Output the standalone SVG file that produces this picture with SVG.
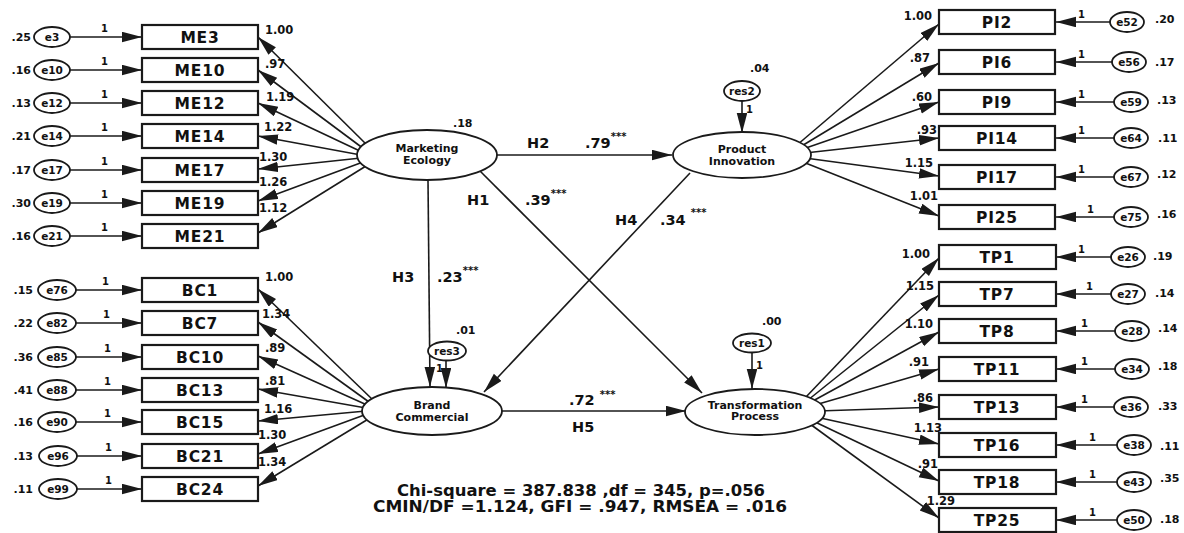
<svg xmlns="http://www.w3.org/2000/svg" width="1184" height="533" viewBox="0 0 1184 533">
<defs>
<style>
.ln{stroke:#1a1a1a;stroke-width:1.6;fill:none}
.box{fill:#fff;stroke:#1a1a1a;stroke-width:2.2}
.lat{fill:#fff;stroke:#1a1a1a;stroke-width:1.8}
.err{fill:#fff;stroke:#1a1a1a;stroke-width:1.8}
text{font-family:"DejaVu Sans","Liberation Sans",sans-serif;font-weight:bold;fill:#111}
.bl{font-size:15.5px;text-anchor:middle;letter-spacing:0.8px}
.lt{font-size:11px;text-anchor:middle}
.el{font-size:10.5px;text-anchor:middle}
.num{font-size:11.5px}
.ne{font-size:11.5px;text-anchor:end}
.var{font-size:11px}
.vr{font-size:11px;text-anchor:end}
.one{font-size:10px}
.h{font-size:14.5px}
.st{font-size:10px}
.fit{font-size:15.5px;text-anchor:middle}
</style>
<marker id="ah" markerUnits="userSpaceOnUse" markerWidth="22" markerHeight="12" refX="20" refY="5.25" orient="auto" viewBox="0 0 22 12"><path d="M0,0 L20,5.25 L0,10.5 Z" fill="#1a1a1a"/></marker>
</defs>
<rect width="1184" height="533" fill="#fff"/>

<g id="connectors">
<!-- ME error arrows -->
<line class="ln" x1="70" y1="37" x2="142" y2="37" marker-end="url(#ah)"/>
<line class="ln" x1="70" y1="70" x2="142" y2="70" marker-end="url(#ah)"/>
<line class="ln" x1="70" y1="103" x2="142" y2="103" marker-end="url(#ah)"/>
<line class="ln" x1="70" y1="136" x2="142" y2="136" marker-end="url(#ah)"/>
<line class="ln" x1="70" y1="170" x2="142" y2="170" marker-end="url(#ah)"/>
<line class="ln" x1="70" y1="203" x2="142" y2="203" marker-end="url(#ah)"/>
<line class="ln" x1="70" y1="236" x2="142" y2="236" marker-end="url(#ah)"/>
<!-- BC error arrows -->
<line class="ln" x1="76" y1="290" x2="142" y2="290" marker-end="url(#ah)"/>
<line class="ln" x1="76" y1="323" x2="142" y2="323" marker-end="url(#ah)"/>
<line class="ln" x1="76" y1="357" x2="142" y2="357" marker-end="url(#ah)"/>
<line class="ln" x1="76" y1="390" x2="142" y2="390" marker-end="url(#ah)"/>
<line class="ln" x1="76" y1="422" x2="142" y2="422" marker-end="url(#ah)"/>
<line class="ln" x1="76" y1="456" x2="142" y2="456" marker-end="url(#ah)"/>
<line class="ln" x1="76" y1="489" x2="142" y2="489" marker-end="url(#ah)"/>
<!-- PI error arrows -->
<line class="ln" x1="1110" y1="22" x2="1056" y2="22" marker-end="url(#ah)"/>
<line class="ln" x1="1112" y1="62" x2="1056" y2="62" marker-end="url(#ah)"/>
<line class="ln" x1="1114" y1="102" x2="1056" y2="102" marker-end="url(#ah)"/>
<line class="ln" x1="1114" y1="138" x2="1056" y2="138" marker-end="url(#ah)"/>
<line class="ln" x1="1114" y1="177" x2="1056" y2="177" marker-end="url(#ah)"/>
<line class="ln" x1="1114" y1="217" x2="1056" y2="217" marker-end="url(#ah)"/>
<!-- TP error arrows -->
<line class="ln" x1="1111" y1="257" x2="1056" y2="257" marker-end="url(#ah)"/>
<line class="ln" x1="1111" y1="294" x2="1056" y2="294" marker-end="url(#ah)"/>
<line class="ln" x1="1115" y1="331" x2="1056" y2="331" marker-end="url(#ah)"/>
<line class="ln" x1="1115" y1="369" x2="1056" y2="369" marker-end="url(#ah)"/>
<line class="ln" x1="1114" y1="407" x2="1056" y2="407" marker-end="url(#ah)"/>
<line class="ln" x1="1117" y1="445" x2="1056" y2="445" marker-end="url(#ah)"/>
<line class="ln" x1="1117" y1="482" x2="1056" y2="482" marker-end="url(#ah)"/>
<line class="ln" x1="1117" y1="520" x2="1056" y2="520" marker-end="url(#ah)"/>
<!-- ME loadings -->
<line class="ln" x1="368" y1="146" x2="258" y2="37" marker-end="url(#ah)"/>
<line class="ln" x1="364" y1="149" x2="258" y2="70" marker-end="url(#ah)"/>
<line class="ln" x1="362" y1="152" x2="258" y2="103" marker-end="url(#ah)"/>
<line class="ln" x1="361" y1="155" x2="258" y2="136" marker-end="url(#ah)"/>
<line class="ln" x1="361" y1="158" x2="258" y2="169" marker-end="url(#ah)"/>
<line class="ln" x1="363" y1="162" x2="258" y2="201" marker-end="url(#ah)"/>
<line class="ln" x1="366" y1="166" x2="258" y2="233" marker-end="url(#ah)"/>
<!-- BC loadings -->
<line class="ln" x1="373" y1="400" x2="258" y2="289" marker-end="url(#ah)"/>
<line class="ln" x1="369" y1="402" x2="258" y2="322" marker-end="url(#ah)"/>
<line class="ln" x1="367" y1="405" x2="258" y2="356" marker-end="url(#ah)"/>
<line class="ln" x1="366" y1="408" x2="258" y2="389" marker-end="url(#ah)"/>
<line class="ln" x1="366" y1="411" x2="258" y2="421" marker-end="url(#ah)"/>
<line class="ln" x1="367" y1="414" x2="258" y2="454" marker-end="url(#ah)"/>
<line class="ln" x1="370" y1="418" x2="258" y2="486" marker-end="url(#ah)"/>
<!-- PI loadings -->
<line class="ln" x1="797" y1="145" x2="939" y2="24" marker-end="url(#ah)"/>
<line class="ln" x1="800" y1="147" x2="939" y2="63" marker-end="url(#ah)"/>
<line class="ln" x1="803" y1="149" x2="939" y2="102" marker-end="url(#ah)"/>
<line class="ln" x1="805" y1="153" x2="939" y2="138" marker-end="url(#ah)"/>
<line class="ln" x1="805" y1="158" x2="939" y2="176" marker-end="url(#ah)"/>
<line class="ln" x1="803" y1="162" x2="939" y2="216" marker-end="url(#ah)"/>
<!-- TP loadings -->
<line class="ln" x1="805" y1="398" x2="939" y2="258" marker-end="url(#ah)"/>
<line class="ln" x1="808" y1="400" x2="939" y2="295" marker-end="url(#ah)"/>
<line class="ln" x1="811" y1="402" x2="939" y2="332" marker-end="url(#ah)"/>
<line class="ln" x1="815" y1="405" x2="939" y2="369" marker-end="url(#ah)"/>
<line class="ln" x1="818" y1="411" x2="939" y2="407" marker-end="url(#ah)"/>
<line class="ln" x1="816" y1="417" x2="939" y2="444" marker-end="url(#ah)"/>
<line class="ln" x1="813" y1="421" x2="939" y2="481" marker-end="url(#ah)"/>
<line class="ln" x1="810" y1="424" x2="939" y2="518" marker-end="url(#ah)"/>
<!-- residual arrows -->
<line class="ln" x1="742" y1="101" x2="742" y2="133" marker-end="url(#ah)"/>
<line class="ln" x1="752" y1="352" x2="752" y2="389" marker-end="url(#ah)"/>
<line class="ln" x1="446" y1="360" x2="446" y2="388" marker-end="url(#ah)"/>
<!-- structural paths -->
<line class="ln" x1="497" y1="155" x2="672" y2="155" marker-end="url(#ah)"/>
<line class="ln" x1="480" y1="171" x2="702" y2="393" marker-end="url(#ah)"/>
<line class="ln" x1="428" y1="180" x2="430" y2="387" marker-end="url(#ah)"/>
<line class="ln" x1="690" y1="173" x2="484" y2="392" marker-end="url(#ah)"/>
<line class="ln" x1="502" y1="411" x2="686" y2="411" marker-end="url(#ah)"/>
</g>

<g id="connector-labels">
<text class="one" x="101" y="32">1</text>
<text class="one" x="101" y="65">1</text>
<text class="one" x="101" y="98">1</text>
<text class="one" x="101" y="131">1</text>
<text class="one" x="101" y="165">1</text>
<text class="one" x="101" y="198">1</text>
<text class="one" x="101" y="231">1</text>
<text class="one" x="102" y="285">1</text>
<text class="one" x="103" y="318">1</text>
<text class="one" x="104" y="352">1</text>
<text class="one" x="104" y="385">1</text>
<text class="one" x="104" y="417">1</text>
<text class="one" x="105" y="451">1</text>
<text class="one" x="105" y="484">1</text>
<text class="one" x="1078" y="18">1</text>
<text class="one" x="1078" y="58">1</text>
<text class="one" x="1078" y="98">1</text>
<text class="one" x="1078" y="134">1</text>
<text class="one" x="1078" y="173">1</text>
<text class="one" x="1087" y="213">1</text>
<text class="one" x="1078" y="253">1</text>
<text class="one" x="1086" y="290">1</text>
<text class="one" x="1081" y="327">1</text>
<text class="one" x="1081" y="365">1</text>
<text class="one" x="1081" y="403">1</text>
<text class="one" x="1089" y="441">1</text>
<text class="one" x="1089" y="478">1</text>
<text class="one" x="1089" y="516">1</text>
<text class="one" x="746" y="113">1</text>
<text class="one" x="756" y="369">1</text>
<text class="one" x="436" y="372">1</text>
<!-- ME loadings -->
<text class="num" x="265" y="34">1.00</text>
<text class="num" x="265" y="68">.97</text>
<text class="num" x="266" y="101">1.19</text>
<text class="num" x="264" y="131">1.22</text>
<text class="num" x="259" y="161">1.30</text>
<text class="num" x="259" y="186">1.26</text>
<text class="num" x="259" y="212">1.12</text>
<!-- BC loadings -->
<text class="num" x="265" y="281">1.00</text>
<text class="num" x="262" y="318">1.34</text>
<text class="num" x="265" y="352">.89</text>
<text class="num" x="265" y="385">.81</text>
<text class="num" x="264" y="413">1.16</text>
<text class="num" x="258" y="439">1.30</text>
<text class="num" x="258" y="466">1.34</text>
<!-- PI loadings -->
<text class="ne" x="932" y="20">1.00</text>
<text class="ne" x="930" y="62">.87</text>
<text class="ne" x="932" y="101">.60</text>
<text class="ne" x="937" y="134">.93</text>
<text class="ne" x="933" y="167">1.15</text>
<text class="ne" x="938" y="200">1.01</text>
<!-- TP loadings -->
<text class="ne" x="930" y="258">1.00</text>
<text class="ne" x="934" y="290">1.15</text>
<text class="ne" x="933" y="328">1.10</text>
<text class="ne" x="929" y="366">.91</text>
<text class="ne" x="933" y="402">.86</text>
<text class="ne" x="942" y="432">1.13</text>
<text class="ne" x="938" y="468">.91</text>
<text class="ne" x="955" y="505">1.29</text>
<!-- structural labels -->
<text class="h" x="527" y="148">H2</text>
<text class="h" x="585" y="148">.79<tspan class="st" dy="-8">***</tspan></text>
<text class="h" x="467" y="205">H1</text>
<text class="h" x="525" y="205">.39<tspan class="st" dy="-8">***</tspan></text>
<text class="h" x="615" y="225">H4</text>
<text class="h" x="660" y="225">.34 <tspan class="st" dy="-9">***</tspan></text>
<text class="h" x="392" y="282">H3</text>
<text class="h" x="437" y="282">.23<tspan class="st" dy="-8">***</tspan></text>
<text class="h" x="569" y="405">.72 <tspan class="st" dy="-7">***</tspan></text>
<text class="h" x="572" y="432">H5</text>
</g>

<!-- ME indicators -->
<g id="ME3"><rect class="box" x="142" y="25" width="116" height="24"/><text class="bl" x="200" y="42.5">ME3</text></g>
<g id="ME10"><rect class="box" x="142" y="58" width="116" height="24"/><text class="bl" x="200" y="75.5">ME10</text></g>
<g id="ME12"><rect class="box" x="142" y="91" width="116" height="24"/><text class="bl" x="200" y="108.5">ME12</text></g>
<g id="ME14"><rect class="box" x="142" y="124" width="116" height="24"/><text class="bl" x="200" y="141.5">ME14</text></g>
<g id="ME17"><rect class="box" x="142" y="158" width="116" height="24"/><text class="bl" x="200" y="175.5">ME17</text></g>
<g id="ME19"><rect class="box" x="142" y="191" width="116" height="24"/><text class="bl" x="200" y="208.5">ME19</text></g>
<g id="ME21"><rect class="box" x="142" y="224" width="116" height="24"/><text class="bl" x="200" y="241.5">ME21</text></g>

<g id="e3"><ellipse class="err" cx="52" cy="37" rx="18" ry="10"/><text class="el" x="52" y="40.5">e3</text><text class="vr" x="31" y="41">.25</text></g>
<g id="e10"><ellipse class="err" cx="52" cy="70" rx="18" ry="10"/><text class="el" x="52" y="73.5">e10</text><text class="vr" x="31" y="74">.16</text></g>
<g id="e12"><ellipse class="err" cx="52" cy="103" rx="18" ry="10"/><text class="el" x="52" y="106.5">e12</text><text class="vr" x="31" y="107">.13</text></g>
<g id="e14"><ellipse class="err" cx="52" cy="136" rx="18" ry="10"/><text class="el" x="52" y="139.5">e14</text><text class="vr" x="31" y="140">.21</text></g>
<g id="e17"><ellipse class="err" cx="52" cy="170" rx="18" ry="10"/><text class="el" x="52" y="173.5">e17</text><text class="vr" x="31" y="174">.17</text></g>
<g id="e19"><ellipse class="err" cx="52" cy="203" rx="18" ry="10"/><text class="el" x="52" y="206.5">e19</text><text class="vr" x="31" y="207">.30</text></g>
<g id="e21"><ellipse class="err" cx="52" cy="236" rx="18" ry="10"/><text class="el" x="52" y="239.5">e21</text><text class="vr" x="31" y="240">.16</text></g>

<!-- BC indicators -->
<g id="BC1"><rect class="box" x="142" y="278" width="116" height="24"/><text class="bl" x="200" y="295.5">BC1</text></g>
<g id="BC7"><rect class="box" x="142" y="311" width="116" height="24"/><text class="bl" x="200" y="328.5">BC7</text></g>
<g id="BC10"><rect class="box" x="142" y="345" width="116" height="24"/><text class="bl" x="200" y="362.5">BC10</text></g>
<g id="BC13"><rect class="box" x="142" y="378" width="116" height="24"/><text class="bl" x="200" y="395.5">BC13</text></g>
<g id="BC15"><rect class="box" x="142" y="410" width="116" height="24"/><text class="bl" x="200" y="427.5">BC15</text></g>
<g id="BC21"><rect class="box" x="142" y="444" width="116" height="24"/><text class="bl" x="200" y="461.5">BC21</text></g>
<g id="BC24"><rect class="box" x="142" y="477" width="116" height="24"/><text class="bl" x="200" y="494.5">BC24</text></g>

<g id="e76"><ellipse class="err" cx="57" cy="290" rx="19" ry="10"/><text class="el" x="57" y="293.5">e76</text><text class="vr" x="33" y="294">.15</text></g>
<g id="e82"><ellipse class="err" cx="57" cy="323" rx="19" ry="10"/><text class="el" x="57" y="326.5">e82</text><text class="vr" x="33" y="327">.22</text></g>
<g id="e85"><ellipse class="err" cx="57" cy="357" rx="19" ry="10"/><text class="el" x="57" y="360.5">e85</text><text class="vr" x="33" y="361">.36</text></g>
<g id="e88"><ellipse class="err" cx="57" cy="390" rx="19" ry="10"/><text class="el" x="57" y="393.5">e88</text><text class="vr" x="33" y="394">.41</text></g>
<g id="e90"><ellipse class="err" cx="57" cy="422" rx="19" ry="10"/><text class="el" x="57" y="425.5">e90</text><text class="vr" x="33" y="426">.16</text></g>
<g id="e96"><ellipse class="err" cx="58" cy="456" rx="19" ry="10"/><text class="el" x="58" y="459.5">e96</text><text class="vr" x="33" y="460">.13</text></g>
<g id="e99"><ellipse class="err" cx="58" cy="489" rx="19" ry="10"/><text class="el" x="58" y="492.5">e99</text><text class="vr" x="33" y="493">.11</text></g>

<!-- PI indicators -->
<g id="PI2"><rect class="box" x="939" y="10" width="116" height="24"/><text class="bl" x="997" y="27.5">PI2</text></g>
<g id="PI6"><rect class="box" x="939" y="50" width="116" height="24"/><text class="bl" x="997" y="67.5">PI6</text></g>
<g id="PI9"><rect class="box" x="939" y="90" width="116" height="24"/><text class="bl" x="997" y="107.5">PI9</text></g>
<g id="PI14"><rect class="box" x="939" y="126" width="116" height="24"/><text class="bl" x="997" y="143.5">PI14</text></g>
<g id="PI17"><rect class="box" x="939" y="165" width="116" height="24"/><text class="bl" x="997" y="182.5">PI17</text></g>
<g id="PI25"><rect class="box" x="939" y="205" width="116" height="24"/><text class="bl" x="997" y="222.5">PI25</text></g>

<g id="e52"><ellipse class="err" cx="1127" cy="22" rx="17" ry="10"/><text class="el" x="1127" y="25.5">e52</text><text class="var" x="1155" y="23">.20</text></g>
<g id="e56"><ellipse class="err" cx="1129" cy="62" rx="17" ry="10"/><text class="el" x="1129" y="65.5">e56</text><text class="var" x="1155" y="66">.17</text></g>
<g id="e59"><ellipse class="err" cx="1131" cy="102" rx="17" ry="10"/><text class="el" x="1131" y="105.5">e59</text><text class="var" x="1157" y="104">.13</text></g>
<g id="e64"><ellipse class="err" cx="1131" cy="138" rx="17" ry="10"/><text class="el" x="1131" y="141.5">e64</text><text class="var" x="1158" y="142">.11</text></g>
<g id="e67"><ellipse class="err" cx="1131" cy="177" rx="17" ry="10"/><text class="el" x="1131" y="180.5">e67</text><text class="var" x="1157" y="178">.12</text></g>
<g id="e75"><ellipse class="err" cx="1131" cy="217" rx="17" ry="10"/><text class="el" x="1131" y="220.5">e75</text><text class="var" x="1157" y="218">.16</text></g>

<!-- TP indicators -->
<g id="TP1"><rect class="box" x="939" y="245" width="117" height="24"/><text class="bl" x="997" y="262.5">TP1</text></g>
<g id="TP7"><rect class="box" x="939" y="282" width="117" height="24"/><text class="bl" x="997" y="299.5">TP7</text></g>
<g id="TP8"><rect class="box" x="939" y="319" width="117" height="24"/><text class="bl" x="997" y="336.5">TP8</text></g>
<g id="TP11"><rect class="box" x="939" y="357" width="117" height="24"/><text class="bl" x="997" y="374.5">TP11</text></g>
<g id="TP13"><rect class="box" x="939" y="395" width="117" height="24"/><text class="bl" x="997" y="412.5">TP13</text></g>
<g id="TP16"><rect class="box" x="939" y="433" width="117" height="24"/><text class="bl" x="997" y="450.5">TP16</text></g>
<g id="TP18"><rect class="box" x="939" y="470" width="117" height="24"/><text class="bl" x="997" y="487.5">TP18</text></g>
<g id="TP25"><rect class="box" x="939" y="508" width="117" height="24"/><text class="bl" x="997" y="525.5">TP25</text></g>

<g id="e26"><ellipse class="err" cx="1128" cy="257" rx="17" ry="10"/><text class="el" x="1128" y="260.5">e26</text><text class="var" x="1153" y="260">.19</text></g>
<g id="e27"><ellipse class="err" cx="1128" cy="294" rx="17" ry="10"/><text class="el" x="1128" y="297.5">e27</text><text class="var" x="1155" y="297">.14</text></g>
<g id="e28"><ellipse class="err" cx="1132" cy="331" rx="17" ry="10"/><text class="el" x="1132" y="334.5">e28</text><text class="var" x="1158" y="332">.14</text></g>
<g id="e34"><ellipse class="err" cx="1132" cy="369" rx="17" ry="10"/><text class="el" x="1132" y="372.5">e34</text><text class="var" x="1158" y="370">.18</text></g>
<g id="e36"><ellipse class="err" cx="1131" cy="407" rx="17" ry="10"/><text class="el" x="1131" y="410.5">e36</text><text class="var" x="1158" y="410">.33</text></g>
<g id="e38"><ellipse class="err" cx="1134" cy="445" rx="17" ry="10"/><text class="el" x="1134" y="448.5">e38</text><text class="var" x="1160" y="450">.11</text></g>
<g id="e43"><ellipse class="err" cx="1134" cy="482" rx="17" ry="10"/><text class="el" x="1134" y="485.5">e43</text><text class="var" x="1160" y="482">.35</text></g>
<g id="e50"><ellipse class="err" cx="1134" cy="520" rx="17" ry="10"/><text class="el" x="1134" y="523.5">e50</text><text class="var" x="1160" y="523">.18</text></g>

<!-- latent variables -->
<g id="MarketingEcology"><ellipse class="lat" cx="427" cy="155" rx="70" ry="25"/><text class="lt" x="427" y="152">Marketing</text><text class="lt" x="427" y="164">Ecology</text><text class="var" x="453" y="127">.18</text></g>
<g id="ProductInnovation"><ellipse class="lat" cx="742" cy="155" rx="69" ry="23"/><text class="lt" x="742" y="153">Product</text><text class="lt" x="742" y="165">Innovation</text></g>
<g id="BrandCommercial"><ellipse class="lat" cx="432" cy="411" rx="70" ry="24"/><text class="lt" x="432" y="409">Brand</text><text class="lt" x="432" y="421">Commercial</text></g>
<g id="TransformationProcess"><ellipse class="lat" cx="755" cy="412" rx="70" ry="23"/><text class="lt" x="755" y="409">Transformation</text><text class="lt" x="755" y="420">Process</text></g>

<!-- residuals -->
<g id="res2"><ellipse class="err" cx="742" cy="91" rx="18" ry="10"/><text class="el" x="742" y="94.5">res2</text><text class="var" x="750" y="72">.04</text></g>
<g id="res1"><ellipse class="err" cx="752" cy="343" rx="19" ry="9.5"/><text class="el" x="752" y="346.5">res1</text><text class="var" x="762" y="325">.00</text></g>
<g id="res3"><ellipse class="err" cx="447" cy="351" rx="19" ry="9.5" fill="none"/><text class="el" x="447" y="354.5">res3</text><text class="var" x="456" y="334">.01</text></g>

<g id="fit-stats">
<text class="fit" x="581" y="496" textLength="368" lengthAdjust="spacingAndGlyphs">Chi-square = 387.838 ,df = 345, p=.056</text>
<text class="fit" x="580" y="512" textLength="414" lengthAdjust="spacingAndGlyphs">CMIN/DF =1.124, GFI = .947, RMSEA = .016</text>
</g>
</svg>
